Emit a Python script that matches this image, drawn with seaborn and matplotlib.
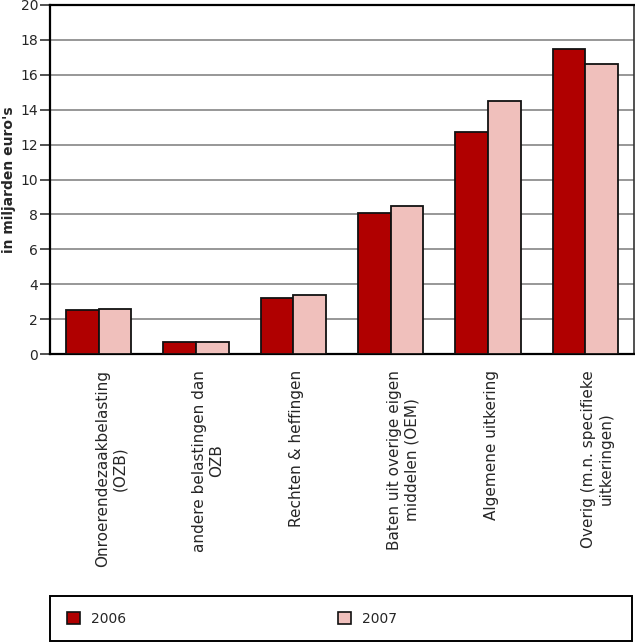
import matplotlib
matplotlib.use("Agg")
import matplotlib.pyplot as plt
import matplotlib.transforms as mtransforms
import seaborn as sns
import pandas as pd
from matplotlib.patches import Rectangle

categories = [
    "Onroerendezaakbelasting\n(OZB)",
    "andere belastingen dan\nOZB",
    "Rechten & heffingen",
    "Baten uit overige eigen\nmiddelen (OEM)",
    "Algemene uitkering",
    "Overig (m.n. specifieke\nuitkeringen)",
]
values_2006 = [2.5, 0.7, 3.2, 8.1, 12.7, 17.5]
values_2007 = [2.6, 0.7, 3.4, 8.5, 14.5, 16.6]
series = ["2006", "2007"]
colors = ["#B00000", "#F0C0BC"]
yticks = [0, 2, 4, 6, 8, 10, 12, 14, 16, 18, 20]

df = pd.DataFrame({
    "cat": categories * 2,
    "year": [series[0]] * len(categories) + [series[1]] * len(categories),
    "value": values_2006 + values_2007,
})

sns.set_style("white")
plt.rcParams["font.family"] = ["DejaVu Sans"]
plt.rcParams["font.size"] = 10

W, H = 635, 644
fig = plt.figure(figsize=(W / 100, H / 100), dpi=100)
ax = fig.add_axes([50 / W, 1 - 354 / H, 584 / W, 349 / H])

sns.barplot(data=df, x="cat", y="value", hue="year", palette=colors,
            order=categories, hue_order=series, width=0.67,
            edgecolor="#111111", linewidth=1.3, ax=ax, legend=False,
            saturation=1, zorder=3)

ax.set_ylim(0, 20)
ax.set_xlim(-0.5, len(categories) - 0.5)
ax.set_yticks(yticks)
ax.set_yticklabels([str(t) for t in yticks], fontsize=10)
ax.yaxis.grid(True, color="#7a7a7a", linewidth=1.1, zorder=0)
ax.set_axisbelow(True)
ax.tick_params(axis="y", length=7.5, width=1.1, color="#222222", pad=1, left=True)

# category labels: rotated, first line centred on the category
ax.set_xticks(range(len(categories)))
ax.set_xticklabels([""] * len(categories))
ax.tick_params(axis="x", which="major", length=0)
offset = mtransforms.ScaledTranslation(-0.04, -0.16, fig.dpi_scale_trans)
for i, cat in enumerate(categories):
    ax.text(i, 0, cat, transform=ax.get_xaxis_transform() + offset,
            rotation=90, rotation_mode="anchor", ha="right", va="top",
            multialignment="center", fontsize=11)
ax.set_xticks([i - 0.5 for i in range(len(categories) + 1)], minor=True)
ax.tick_params(axis="x", which="minor", length=8, width=1.1, color="#555555")

ax.set_xlabel("")
ax.set_ylabel("in miljarden euro's", fontsize=10, fontweight="bold", labelpad=3)

for s in ["left", "bottom", "top"]:
    ax.spines[s].set_color("#000000")
    ax.spines[s].set_linewidth(1.6)
ax.spines["right"].set_color("#333333")
ax.spines["right"].set_linewidth(1.2)

# legend box
fig.patches.append(Rectangle((50 / W, 1 - 641 / H), 582 / W, 45 / H,
                             transform=fig.transFigure, fill=False,
                             edgecolor="#000000", linewidth=1.4))
handles = [Rectangle((0, 0), 1, 1, facecolor=c, edgecolor="#111111", linewidth=1.2)
           for c in colors]
fig.legend(handles, series, loc="center left",
           bbox_to_anchor=(67 / W, 1 - 619 / H), ncol=2, frameon=False,
           handlelength=0.9, handleheight=0.9, handletextpad=0.8,
           columnspacing=15.3, fontsize=10, borderpad=0, borderaxespad=0)

fig.savefig("out.png", dpi=100)
